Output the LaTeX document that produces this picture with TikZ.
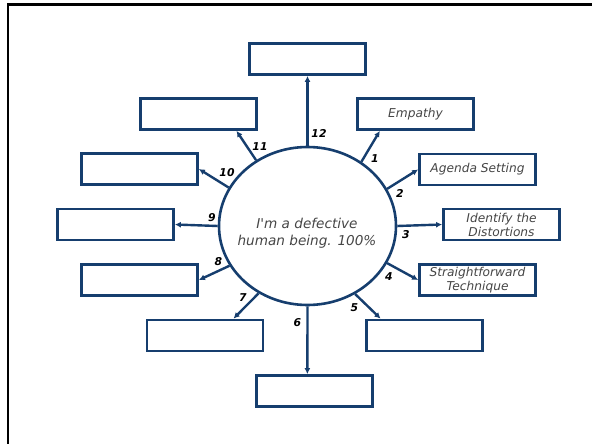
\documentclass[tikz,border=0pt]{standalone}
\usepackage{fontspec}
\setmainfont{DejaVu Sans}
\usetikzlibrary{shapes.geometric,arrows.meta,calc}
\definecolor{navy}{RGB}{22,62,110}
\definecolor{txt}{RGB}{70,70,70}
\tikzset{
  box/.style={draw=navy,line width=2.8pt,minimum width=116pt,minimum height=31pt,inner sep=0pt,fill=white,font=\fontsize{12.2}{14}\selectfont\itshape,text=txt,align=center},
  arr/.style={draw=navy,line width=2.4pt,-{Latex[length=6pt,width=6pt]}},
  num/.style={font=\fontsize{10.8}{12}\selectfont\bfseries\itshape,text=black,inner sep=0pt},
  hub/.style={draw=navy,line width=2.6pt,ellipse,minimum width=177pt,minimum height=158pt,inner sep=0pt},
  hubtext/.style={font=\fontsize{13.6}{16.5}\selectfont\itshape,text=txt,align=center,inner sep=0pt}
}
\begin{document}
\begin{tikzpicture}[x=1pt,y=-1pt]
\useasboundingbox (0,0) rectangle (592,444);
\fill[white] (0,0) rectangle (592,444);
\draw[black,line width=2.6pt] (8,450) -- (8,4.5) -- (600,4.5);
\node[hub] (c) at (307.5,226) {};
\node[hubtext] (ct) at (307,233) {I\textquotesingle m a defective\\human being. 100\%};
\node[box] (b12) at (307.5,59) {};
\node[box] (b11) at (198.5,114) {};
\node[box] (b10) at (139.5,169) {};
\node[box] (b9) at (115.5,224.5) {};
\node[box] (b8) at (139.5,280) {};
\node[box] (b7) at (205,335.5) {};
\node[box] (b6) at (314.5,391) {};
\node[box] (b5) at (424.5,335.5) {};
\node[box] (b4) at (477.5,280) {Straightforward\\Technique};
\node[box] (b3) at (501.5,224.5) {Identify the\\Distortions};
\node[box] (b2) at (477.5,169.5) {Agenda Setting};
\node[box] (b1) at (415.5,114) {Empathy};
\draw[arr] (c.50.5) -- ($(b1.south west)!0.2!(b1.south east)$);
\draw[arr] (c.25.5) -- (b2.west);
\draw[arr] (c.0) -- (b3.west);
\draw[arr] (c.-25.5) -- (b4.west);
\draw[arr] (c.-55.7) -- ($(b5.north west)!0.13!(b5.north east)$);
\draw[arr] (c.-90) -- ($(b6.north west)!0.44!(b6.north east)$);
\draw[arr] (c.234.5) -- ($(b7.north west)!0.74!(b7.north east)$);
\draw[arr] (c.207) -- (b8.east);
\draw[arr] (c.180) -- (b9.east);
\draw[arr] (c.154) -- (b10.east);
\draw[arr] (c.128.8) -- ($(b11.south west)!0.82!(b11.south east)$);
\draw[arr] (c.90) -- (b12.south);
\node[num] (n1) at (375,159) {1};
\node[num] (n2) at (400,193) {2};
\node[num] (n3) at (406,235) {3};
\node[num] (n4) at (389,277) {4};
\node[num] (n5) at (354.5,308) {5};
\node[num] (n6) at (297.5,323) {6};
\node[num] (n7) at (243,298) {7};
\node[num] (n8) at (218.5,262) {8};
\node[num] (n9) at (212,218) {9};
\node[num] (n10) at (227,173) {10};
\node[num] (n11) at (260,147) {11};
\node[num] (n12) at (319,133) {12};
\end{tikzpicture}
\end{document}
